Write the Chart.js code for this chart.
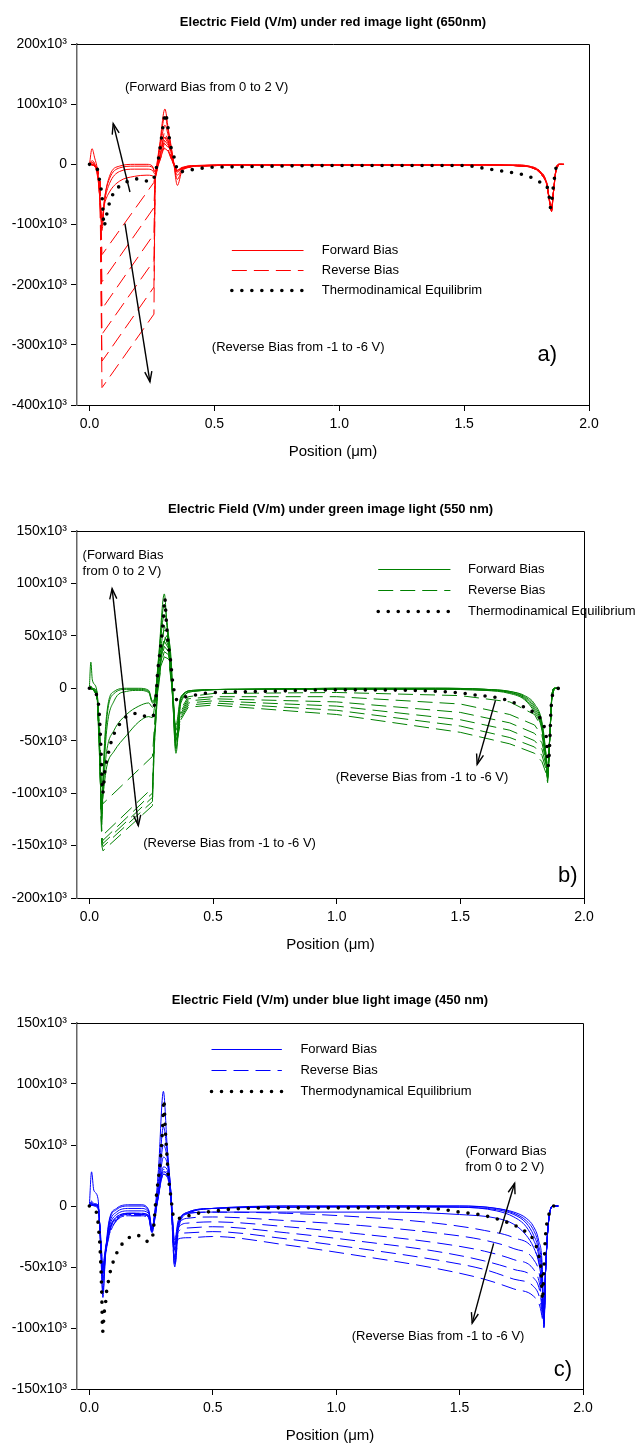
<!DOCTYPE html>
<html><head><meta charset="utf-8">
<script src="https://cdn.jsdelivr.net/npm/chart.js@4.4.1/dist/chart.umd.min.js"></script>
<style>
html,body{margin:0;padding:0;background:#fff;}
body{width:641px;height:1447px;position:relative;overflow:hidden;}
.panel{position:absolute;left:0;width:641px;}
canvas{display:block;}
</style></head><body>
<div class="panel" style="top:0px"><canvas id="ca" width="641" height="475"></canvas></div>
<div class="panel" style="top:475px"><canvas id="cb" width="641" height="490"></canvas></div>
<div class="panel" style="top:965px"><canvas id="cc" width="641" height="482"></canvas></div>
<script>
// ---------- shared axis ticks (field in units of 10^3 V/m) ----------
const xTicks = [0, 0.5, 1.0, 1.5, 2.0];
const yTicksA = [200, 100, 0, -100, -200, -300, -400];
const yTicksB = [150, 100, 50, 0, -50, -100, -150, -200];
const yTicksC = [150, 100, 50, 0, -50, -100, -150];

// ---------- panel a : red (650 nm) ----------
const redEqX = [0, 0.02, 0.033, 0.04, 0.047, 0.052, 0.058, 0.067, 0.076, 0.09, 0.118, 0.155, 0.198, 0.234, 0.255, 0.265, 0.275, 0.287, 0.296, 0.304, 0.313, 0.323, 0.335, 0.345, 0.355, 0.395, 0.47, 0.6, 1.0, 1.3, 1.5, 1.6, 1.68, 1.76, 1.8, 1.837, 1.846, 1.857, 1.87, 1.9];
const redEqY = [0, -3, -10, -26, -43, -62, -103, -87, -70, -53, -37, -28, -24, -28, -26, -10, 7, 40, 68, 85, 65, 34, 18, 1, -13, -10, -5.5, -4, -2, -2, -2, -8, -13, -20, -29, -42, -72, -38, -4, 0];
const redFwdX = [0, 0.01, 0.02, 0.035, 0.045, 0.05, 0.06, 0.08, 0.12, 0.18, 0.23, 0.252, 0.262, 0.28, 0.302, 0.315, 0.335, 0.352, 0.37, 0.42, 0.6, 1.0, 1.4, 1.6, 1.7, 1.76, 1.8, 1.83, 1.842, 1.85, 1.858, 1.868, 1.88, 1.9];
const redFwd = [
  [0, 26, 12, -20, -85, -110, -60, -20, -3, 0, 0, -3, -12, 30, 92, 60, 10, -35, -12, -3, -1, -1, -1, -1, -1, -3, -10, -30, -60, -78, -45, -8, 0, 0],
  [0, 6, 2, -22, -80, -102, -58, -24, -6, -3, -3, -5, -13, 26, 80, 55, 8, -25, -10, -3, -1, -1, -1, -1, -1, -3, -11, -31, -61, -77, -45, -8, 0, 0],
  [0, 3, 0, -25, -75, -95, -62, -32, -12, -8, -8, -10, -16, 20, 65, 48, 6, -18, -8, -2, -1, -1, -1, -1, -2, -4, -12, -32, -62, -76, -44, -8, 0, 0],
  [0, 2, -1, -28, -70, -88, -66, -46, -28, -20, -18, -19, -22, 12, 45, 38, 4, -13, -6, -2, -1, -1, -1, -1, -2, -4, -13, -33, -63, -75, -43, -8, 0, 0]
];
const redRevX = [0, 0.015, 0.03, 0.042, 0.05, 0.054, 0.258, 0.263, 0.272, 0.285, 0.3, 0.315, 0.335, 0.352, 0.37, 0.42, 0.6, 1.0, 1.4, 1.6, 1.7, 1.76, 1.8, 1.83, 1.842, 1.85, 1.858, 1.868, 1.88, 1.9];
const redRev = [
  [0, -1, -5, -25, -150, -148, -30, -16, 0, 20, 55, 40, 5, -15, -8, -3, -1, -1, -1, -1, -2, -4, -10, -30, -60, -78, -45, -8, 0, 0],
  [0, -1, -5, -26, -195, -193, -72, -18, -2, 17, 46, 35, 4, -14, -7, -3, -1, -1, -1, -1, -2, -4, -10, -30, -60, -78, -45, -8, 0, 0],
  [0, -1, -6, -27, -240, -238, -116, -20, -3, 15, 40, 32, 3, -13, -7, -3, -1, -1, -1, -1, -2, -4, -10, -30, -60, -78, -45, -8, 0, 0],
  [0, -1, -6, -28, -282, -280, -160, -22, -4, 13, 35, 28, 2, -12, -6, -3, -1, -1, -1, -1, -2, -4, -10, -30, -60, -78, -45, -8, 0, 0],
  [0, -1, -7, -29, -327, -325, -204, -24, -5, 11, 30, 25, 1, -11, -6, -3, -1, -1, -1, -1, -2, -4, -10, -30, -60, -78, -45, -8, 0, 0],
  [0, -1, -7, -30, -371, -369, -249, -26, -6, 10, 27, 22, 0, -10, -5, -3, -1, -1, -1, -1, -2, -4, -10, -30, -60, -78, -45, -8, 0, 0]
];

// ---------- panel b : green (550 nm) ----------
const greenEqX = [0, 0.03, 0.038, 0.043, 0.047, 0.05, 0.054, 0.063, 0.071, 0.081, 0.092, 0.115, 0.149, 0.193, 0.233, 0.258, 0.262, 0.271, 0.275, 0.283, 0.291, 0.3, 0.305, 0.31, 0.317, 0.328, 0.337, 0.354, 0.392, 0.439, 0.48, 0.7, 1.0, 1.3, 1.5, 1.58, 1.627, 1.668, 1.709, 1.75, 1.795, 1.832, 1.849, 1.855, 1.863, 1.866, 1.88, 1.9];
const greenEqY = [0, -7, -18, -38, -59, -79, -100, -78, -68, -58, -48, -37, -27, -24, -27, -27, -18, -5, 12, 30, 46, 68, 86, 68, 46, 27, 6, -11, -8, -6, -4.5, -3, -1.5, -2, -4.5, -7, -8, -10, -13, -17, -23, -33, -50, -74, -43, -23, -2, 0];
const greenFwdX = [0, 0.006, 0.012, 0.03, 0.04, 0.05, 0.056, 0.07, 0.1, 0.15, 0.2, 0.24, 0.255, 0.265, 0.28, 0.303, 0.315, 0.33, 0.35, 0.37, 0.42, 0.6, 1.0, 1.4, 1.6, 1.7, 1.76, 1.8, 1.83, 1.845, 1.853, 1.862, 1.87, 1.88, 1.9];
const greenFwd = [
  [0, 25, 8, -2, -40, -130, -80, -25, -3, 0, 0, -2, -12, -8, 30, 90, 55, 10, -35, -8, -2, -1, 0, 0, -1, -3, -7, -15, -32, -60, -86, -45, -8, 0, 0],
  [0, 2, 0, -3, -45, -125, -85, -30, -5, -1, -1, -3, -13, -9, 28, 80, 60, 15, -40, -9, -2, -1, 0, 0, -1, -3, -8, -17, -34, -62, -85, -45, -8, 0, 0],
  [0, 2, 0, -4, -50, -120, -90, -40, -12, -3, -2, -4, -14, -10, 25, 70, 60, 20, -50, -10, -2, -1, 0, 0, -1, -4, -9, -19, -36, -64, -84, -44, -8, 0, 0],
  [0, 1, -1, -5, -55, -115, -95, -60, -40, -25, -17, -14, -18, -12, 20, 55, 55, 25, -58, -12, -3, -1, -1, -1, -2, -4, -10, -21, -38, -66, -83, -44, -8, 0, 0],
  [0, 1, -1, -6, -60, -110, -100, -75, -60, -45, -32, -27, -28, -15, 15, 45, 50, 30, -62, -14, -3, -1, -1, -1, -2, -5, -11, -23, -40, -68, -82, -43, -8, 0, 0]
];
const greenRevX = [0, 0.015, 0.03, 0.042, 0.05, 0.055, 0.255, 0.262, 0.275, 0.29, 0.303, 0.32, 0.335, 0.35, 0.37, 0.4, 0.5, 1.0, 1.5, 1.7, 1.8, 1.83, 1.845, 1.853, 1.862, 1.87, 1.88, 1.9];
const greenRev = [
  [0, -1, -5, -40, -100, -110, -65, -40, 5, 35, 60, 45, 5, -45, -20, -8, -5, -4, -7, -13, -25, -38, -60, -80, -45, -8, 0, 0],
  [0, -1, -5, -45, -135, -140, -95, -50, 0, 30, 50, 40, 3, -48, -22, -10, -8, -8, -15, -25, -35, -45, -65, -82, -45, -8, 0, 0],
  [0, -1, -6, -48, -140, -145, -100, -52, -2, 28, 45, 38, 2, -50, -24, -12, -10, -13, -23, -33, -43, -52, -68, -84, -45, -8, 0, 0],
  [0, -1, -6, -50, -143, -148, -104, -54, -4, 26, 40, 35, 1, -52, -26, -14, -12, -17, -30, -40, -50, -58, -72, -86, -45, -8, 0, 0],
  [0, -1, -7, -52, -146, -151, -108, -56, -6, 24, 35, 32, 0, -55, -28, -16, -14, -21, -36, -47, -56, -64, -76, -88, -46, -8, 0, 0],
  [0, -1, -7, -55, -150, -155, -112, -58, -8, 22, 30, 28, -2, -57, -30, -18, -16, -25, -42, -53, -62, -70, -80, -90, -46, -8, 0, 0]
];

// ---------- panel c : blue (450 nm) ----------
const blueEqX = [0, 0.03, 0.036, 0.04, 0.043, 0.047, 0.05, 0.054, 0.06, 0.066, 0.07, 0.078, 0.087, 0.1, 0.12, 0.153, 0.194, 0.236, 0.254, 0.26, 0.267, 0.276, 0.286, 0.296, 0.302, 0.307, 0.314, 0.32, 0.33, 0.343, 0.377, 0.414, 0.456, 0.5, 0.58, 0.8, 1.2, 1.42, 1.5, 1.59, 1.67, 1.72, 1.76, 1.8, 1.82, 1.83, 1.836, 1.842, 1.848, 1.862, 1.88, 1.9];
const blueEqY = [0, -6, -15, -25, -33, -51, -70, -103, -88, -79, -70, -61, -52, -44, -35, -27, -24, -29, -27, -19, -1, 16, 34, 61, 87, 65, 43, 25, 8, -10, -10, -7, -5.5, -4.4, -2.5, -1.5, -1.5, -2.6, -5, -7.4, -11.8, -15.6, -20, -28, -40, -52, -77, -50, -25, -7, 0, 0];
const blueFwdX = [0, 0.009, 0.018, 0.035, 0.045, 0.055, 0.065, 0.08, 0.11, 0.16, 0.21, 0.24, 0.254, 0.265, 0.28, 0.3, 0.315, 0.33, 0.346, 0.36, 0.4, 0.5, 0.8, 1.2, 1.5, 1.65, 1.72, 1.77, 1.8, 1.82, 1.835, 1.842, 1.848, 1.862, 1.88, 1.9];
const blueFwd = [
  [0, 28, 13, 6, -30, -75, -40, -12, -2, 1, 1, -3, -18, -5, 30, 94, 50, 10, -50, -20, -6, -2, 0, 0, 0, -2, -5, -10, -17, -28, -50, -99, -55, -10, 0, 0],
  [0, 4, 2, 1, -30, -70, -42, -14, -3, 0, 0, -4, -19, -6, 20, 65, 45, 12, -42, -18, -5, -2, 0, 0, 0, -2, -6, -12, -20, -32, -55, -97, -55, -10, 0, 0],
  [0, 3, 1, 0, -28, -62, -40, -16, -5, -2, -2, -5, -19, -7, 15, 50, 40, 12, -36, -16, -5, -2, -1, 0, -1, -3, -7, -14, -24, -36, -60, -96, -55, -10, 0, 0],
  [0, 2, 1, -1, -25, -55, -38, -18, -7, -4, -4, -6, -20, -8, 12, 40, 35, 12, -32, -14, -6, -2, -1, -1, -1, -4, -9, -17, -28, -40, -64, -95, -55, -10, 0, 0],
  [0, 2, 0, -2, -22, -48, -35, -20, -9, -6, -6, -8, -20, -9, 10, 32, 30, 10, -28, -12, -6, -5, -5, -5, -7, -10, -15, -24, -34, -46, -68, -94, -55, -10, 0, 0]
];
const blueRevX = [0, 0.015, 0.035, 0.045, 0.055, 0.065, 0.08, 0.11, 0.16, 0.21, 0.24, 0.254, 0.265, 0.28, 0.3, 0.315, 0.33, 0.346, 0.36, 0.4, 0.5, 0.8, 1.1, 1.4, 1.6, 1.72, 1.8, 1.825, 1.836, 1.842, 1.848, 1.862, 1.88, 1.9];
const blueRev = [
  [0, 1, 0, -24, -50, -36, -20, -9, -6, -6, -8, -20, -9, 10, 30, 28, 8, -32, -14, -6, -5, -6, -9, -14, -20, -26, -36, -50, -75, -90, -55, -10, 0, 0],
  [0, 1, 0, -24, -52, -37, -21, -10, -6, -6, -8, -20, -9, 10, 30, 28, 8, -36, -16, -10, -9, -12, -16, -22, -28, -35, -44, -58, -80, -92, -55, -10, 0, 0],
  [0, 1, 0, -25, -54, -38, -22, -10, -7, -7, -9, -21, -10, 9, 28, 26, 7, -40, -18, -14, -13, -17, -23, -30, -37, -44, -52, -65, -84, -94, -55, -10, 0, 0],
  [0, 1, 0, -25, -56, -39, -23, -11, -7, -7, -9, -21, -10, 9, 28, 26, 7, -44, -21, -18, -17, -22, -29, -37, -45, -52, -59, -70, -87, -96, -55, -10, 0, 0],
  [0, 1, -1, -26, -58, -40, -24, -12, -8, -8, -10, -22, -11, 8, 26, 24, 6, -47, -24, -22, -21, -27, -35, -44, -52, -60, -66, -76, -90, -98, -55, -10, 0, 0],
  [0, 1, -1, -26, -60, -41, -25, -12, -8, -8, -10, -22, -11, 8, 26, 24, 6, -50, -27, -26, -25, -32, -41, -51, -60, -68, -74, -82, -93, -100, -55, -10, 0, 0]
];

// ---------- rendering ----------
const FONT = "'Liberation Sans', Arial, Helvetica, sans-serif";
const pts = (xs, ys) => xs.map((x, i) => ({x: x, y: ys[i]}));
const DASH = [15, 7];

function buildDatasets(color, eqX, eqY, fX, fw, rX, rv, revLinear) {
  const ds = [];
  ds.push({data: pts(eqX, eqY), borderColor: '#000', borderWidth: 3.6, borderDash: [0, 10],
           borderCapStyle: 'round', pointRadius: 0, cubicInterpolationMode: 'monotone', fill: false});
  fw.forEach(ys => ds.push({data: pts(fX, ys), borderColor: color, borderWidth: 1, pointRadius: 0,
           cubicInterpolationMode: 'monotone', fill: false}));
  rv.forEach(ys => ds.push({data: pts(rX, ys), borderColor: color, borderWidth: 1, pointRadius: 0,
           borderDash: DASH, tension: 0, cubicInterpolationMode: revLinear ? 'default' : 'monotone', fill: false}));
  return ds;
}

function arrowHead(ctx, x1, y1, x2, y2) {
  const a = Math.atan2(y2 - y1, x2 - x1), L = 11, s = 0.33;
  ctx.beginPath();
  ctx.moveTo(x2 - L * Math.cos(a - s), y2 - L * Math.sin(a - s));
  ctx.lineTo(x2, y2);
  ctx.lineTo(x2 - L * Math.cos(a + s), y2 - L * Math.sin(a + s));
  ctx.stroke();
}

function decorPlugin(cfg) {
  return {
    id: 'decor',
    afterDraw(chart) {
      const ctx = chart.ctx, ca = chart.chartArea, sx = chart.scales.x, sy = chart.scales.y;
      const px = v => sx.getPixelForValue(v), py = v => sy.getPixelForValue(v);
      ctx.save();
      // box top + right
      ctx.strokeStyle = '#000'; ctx.lineWidth = 1; ctx.setLineDash([]);
      ctx.beginPath();
      ctx.moveTo(ca.left, ca.top + 0.5); ctx.lineTo(ca.right + 0.5, ca.top + 0.5); ctx.lineTo(ca.right + 0.5, ca.bottom);
      ctx.stroke();
      // title
      ctx.fillStyle = '#000';
      ctx.font = 'bold 13px ' + FONT; ctx.textAlign = 'center'; ctx.textBaseline = 'middle';
      ctx.fillText(cfg.title, (ca.left + ca.right) / 2, cfg.titleY);
      // axis title
      ctx.font = '15px ' + FONT;
      ctx.fillText('Position (\u03bcm)', (ca.left + ca.right) / 2, ca.bottom + 47);
      // legend
      const lg = cfg.legend;
      lg.ys.forEach((yv, i) => {
        const y = Math.round(py(yv)) + 0.5, x0 = px(lg.x0), x1 = px(lg.x1);
        ctx.beginPath();
        if (i === 0) { ctx.strokeStyle = cfg.color; ctx.lineWidth = 1; ctx.setLineDash([]); ctx.lineCap = 'butt'; }
        if (i === 1) { ctx.strokeStyle = cfg.color; ctx.lineWidth = 1; ctx.setLineDash(DASH); ctx.lineCap = 'butt'; }
        if (i === 2) { ctx.strokeStyle = '#000'; ctx.lineWidth = 3.6; ctx.setLineDash([0, 10]); ctx.lineCap = 'round'; }
        ctx.moveTo(x0, y); ctx.lineTo(x1, y); ctx.stroke();
        ctx.setLineDash([]); ctx.lineCap = 'butt';
        ctx.fillStyle = '#000'; ctx.font = '13px ' + FONT; ctx.textAlign = 'left'; ctx.textBaseline = 'middle';
        ctx.fillText(lg.labels[i], px(lg.tx), y);
      });
      // annotation texts
      ctx.font = '13px ' + FONT; ctx.textBaseline = 'middle'; ctx.fillStyle = '#000';
      cfg.texts.forEach(t => { ctx.textAlign = t.align || 'left'; ctx.fillText(t.t, px(t.x), py(t.y)); });
      // arrows
      ctx.strokeStyle = '#000'; ctx.lineWidth = 1.4; ctx.setLineDash([]);
      cfg.arrows.forEach(a => {
        const x1 = px(a.x1), y1 = py(a.y1), x2 = px(a.x2), y2 = py(a.y2);
        ctx.beginPath(); ctx.moveTo(x1, y1); ctx.lineTo(x2, y2); ctx.stroke();
        arrowHead(ctx, x1, y1, x2, y2);
        if (a.both) arrowHead(ctx, x2, y2, x1, y1);
      });
      // panel label
      ctx.font = '22px ' + FONT; ctx.textAlign = 'right'; ctx.textBaseline = 'middle';
      ctx.fillText(cfg.label.t, px(cfg.label.x), py(cfg.label.y));
      ctx.restore();
    }
  };
}

function makeChart(id, cfg) {
  const canvas = document.getElementById(id);
  return new Chart(canvas, {
    type: 'line',
    data: {datasets: cfg.datasets},
    options: {
      responsive: false, animation: false, events: [],
      layout: {padding: {top: cfg.padTop, right: cfg.padRight, left: 0, bottom: 0}},
      plugins: {legend: {display: false}, tooltip: {enabled: false}, title: {display: false}},
      scales: {
        x: {
          type: 'linear', min: -0.05, max: 2.0,
          afterBuildTicks: s => { s.ticks = xTicks.map(v => ({value: v})); },
          afterFit: s => { s.height = cfg.xAxisH; },
          ticks: {callback: v => Number(v).toFixed(1), font: {family: FONT, size: 14}, color: '#000',
                  padding: 5, maxRotation: 0, autoSkip: false},
          grid: {display: true, drawOnChartArea: false, drawTicks: true, tickLength: 6, color: '#000', tickColor: '#000'},
          border: {display: true, color: '#000', width: 1}
        },
        y: {
          type: 'linear', min: cfg.yMin, max: cfg.yMax,
          afterBuildTicks: s => { s.ticks = cfg.yTicks.map(v => ({value: v})); },
          afterFit: s => { s.width = 77; },
          ticks: {callback: v => v === 0 ? '0' : v + 'x10\u00b3', font: {family: FONT, size: 14}, color: '#000',
                  padding: 4, autoSkip: false},
          grid: {display: true, drawOnChartArea: false, drawTicks: true, tickLength: 6, color: '#000', tickColor: '#000'},
          border: {display: true, color: '#666', width: 1.5}
        }
      }
    },
    plugins: [decorPlugin(cfg)]
  });
}

makeChart('ca', {
  datasets: buildDatasets('#ff0000', redEqX, redEqY, redFwdX, redFwd, redRevX, redRev, true),
  padTop: 44, padRight: 52, xAxisH: 70, yMin: -400, yMax: 200, yTicks: yTicksA,
  color: '#ff0000', title: 'Electric Field (V/m) under red image light (650nm)', titleY: 22,
  legend: {x0: 0.57, x1: 0.857, tx: 0.93, ys: [-143, -176, -209],
           labels: ['Forward Bias', 'Reverse Bias', 'Thermodinamical Equilibrim']},
  texts: [{t: '(Forward Bias from 0 to 2 V)', x: 0.142, y: 128},
          {t: '(Reverse Bias from -1 to -6 V)', x: 0.49, y: -305}],
  arrows: [{x1: 0.162, y1: -46, x2: 0.095, y2: 67.6}, {x1: 0.142, y1: -98.5, x2: 0.242, y2: -361.6}],
  label: {t: 'a)', x: 1.872, y: -317}
});

makeChart('cb', {
  datasets: buildDatasets('#008000', greenEqX, greenEqY, greenFwdX, greenFwd, greenRevX, greenRev, true),
  padTop: 56, padRight: 57, xAxisH: 67, yMin: -200, yMax: 150, yTicks: yTicksB,
  color: '#008000', title: 'Electric Field (V/m) under green image light (550 nm)', titleY: 34,
  legend: {x0: 1.168, x1: 1.46, tx: 1.531, ys: [113.7, 93.6, 73.8],
           labels: ['Forward Bias', 'Reverse Bias', 'Thermodinamical Equilibrium']},
  texts: [{t: '(Forward Bias', x: -0.0275, y: 127}, {t: 'from 0 to 2 V)', x: -0.0275, y: 111},
          {t: '(Reverse Bias from -1 to -6 V)', x: 0.218, y: -148},
          {t: '(Reverse Bias from -1 to -6 V)', x: 1.694, y: -84.7, align: 'right'}],
  arrows: [{x1: 0.198, y1: -131, x2: 0.092, y2: 95, both: true}, {x1: 1.642, y1: -11.5, x2: 1.568, y2: -72.6}],
  label: {t: 'b)', x: 1.974, y: -178.6}
});

makeChart('cc', {
  datasets: buildDatasets('#0000ff', blueEqX, blueEqY, blueFwdX, blueFwd, blueRevX, blueRev, false),
  padTop: 58, padRight: 58, xAxisH: 58, yMin: -150, yMax: 150, yTicks: yTicksC,
  color: '#0000ff', title: 'Electric Field (V/m) under blue light image (450 nm)', titleY: 35,
  legend: {x0: 0.495, x1: 0.78, tx: 0.855, ys: [128.4, 111.5, 94.5],
           labels: ['Forward Bias', 'Reverse Bias', 'Thermodynamical Equilibrium']},
  texts: [{t: '(Forward Bias', x: 1.524, y: 45}, {t: 'from 0 to 2 V)', x: 1.524, y: 31.4},
          {t: '(Reverse Bias from -1 to -6 V)', x: 1.063, y: -107}],
  arrows: [{x1: 1.662, y1: -22.4, x2: 1.723, y2: 18.6}, {x1: 1.638, y1: -30.6, x2: 1.551, y2: -96}],
  label: {t: 'c)', x: 1.956, y: -134}
});
</script>
</body></html>
